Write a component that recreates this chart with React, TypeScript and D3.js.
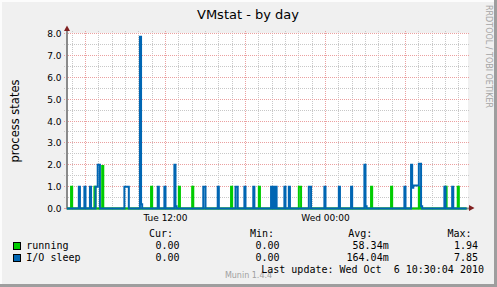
import React from "react";
import * as d3 from "d3";

const W = 497;
const H = 287;

const title = "VMstat - by day";
const yAxisLabel = "process states";
const watermark = "RRDTOOL / TOBI OETIKER";
const footer = "Munin 1.4.4";
const lastUpdate = "Last update: Wed Oct  6 10:30:04 2010";

const yMajorTicks = [0, 1, 2, 3, 4, 5, 6, 7, 8];
const yMinorTicks = [0.5, 1.5, 2.5, 3.5, 4.5, 5.5, 6.5, 7.5];
const xLabelTimes = ["2010-10-05 12:00", "2010-10-06 00:00"];

const rangeStart = "2010-10-05 04:36:45";
const rangeEnd = "2010-10-06 10:36:45";
const sampleStart = "2010-10-05 04:35";
const sampleEnd = "2010-10-06 10:40";

const seriesNames = ["running", "I/O sleep"];
const seriesColors = ["#00CC00", "#0066B3"];
const curValues = ["0.00", "0.00"];
const minValues = ["0.00", "0.00"];
const avgValues = ["58.34m", "164.04m"];
const maxValues = ["1.94", "7.85"];
const legendHeaders = ["Cur:", "Min:", "Avg:", "Max:"];

// non-zero 5-minute samples (all other samples are 0)
const runningSamples: [string, number][] = [
  ["2010-10-05 04:55", 1],
  ["2010-10-05 06:40", 1],
  ["2010-10-05 07:15", 1.94],
  ["2010-10-05 10:55", 1],
  ["2010-10-05 13:00", 1],
  ["2010-10-05 14:00", 1],
  ["2010-10-05 16:55", 1],
  ["2010-10-05 19:00", 1],
  ["2010-10-05 22:00", 1],
  ["2010-10-05 22:05", 1],
  ["2010-10-06 03:25", 1],
  ["2010-10-06 04:55", 1],
  ["2010-10-06 07:00", 1],
  ["2010-10-06 09:00", 1],
  ["2010-10-06 09:55", 1],
];

const ioSleepSamples: [string, number][] = [
  ["2010-10-05 05:30", 1],
  ["2010-10-05 05:55", 1],
  ["2010-10-05 06:20", 1],
  ["2010-10-05 06:45", 1],
  ["2010-10-05 06:50", 1],
  ["2010-10-05 06:55", 2],
  ["2010-10-05 07:00", 2],
  ["2010-10-05 08:55", 1],
  ["2010-10-05 09:00", 1],
  ["2010-10-05 09:05", 1],
  ["2010-10-05 09:10", 1],
  ["2010-10-05 10:05", 7.85],
  ["2010-10-05 10:10", 0.2],
  ["2010-10-05 11:25", 1],
  ["2010-10-05 11:55", 1],
  ["2010-10-05 12:40", 2],
  ["2010-10-05 12:45", 0.1],
  ["2010-10-05 14:50", 1],
  ["2010-10-05 14:55", 1],
  ["2010-10-05 15:55", 1],
  ["2010-10-05 17:15", 1],
  ["2010-10-05 17:20", 1],
  ["2010-10-05 17:55", 1],
  ["2010-10-05 18:35", 1],
  ["2010-10-05 19:55", 1],
  ["2010-10-05 20:05", 1],
  ["2010-10-05 20:15", 1],
  ["2010-10-05 20:55", 1],
  ["2010-10-05 21:15", 1],
  ["2010-10-05 22:45", 1],
  ["2010-10-05 22:50", 1],
  ["2010-10-05 23:55", 1],
  ["2010-10-06 01:00", 1],
  ["2010-10-06 01:55", 1],
  ["2010-10-06 02:55", 2],
  ["2010-10-06 03:00", 0.1],
  ["2010-10-06 05:55", 1],
  ["2010-10-06 06:25", 2],
  ["2010-10-06 06:30", 0.95],
  ["2010-10-06 06:35", 1.05],
  ["2010-10-06 06:40", 1.05],
  ["2010-10-06 06:45", 1.05],
  ["2010-10-06 06:50", 1.05],
  ["2010-10-06 06:55", 1.05],
  ["2010-10-06 07:00", 2.05],
  ["2010-10-06 07:05", 2.05],
  ["2010-10-06 07:10", 0.1],
  ["2010-10-06 08:55", 1],
  ["2010-10-06 09:30", 1],
];

const parseM = d3.utcParse("%Y-%m-%d %H:%M");
const parseS = d3.utcParse("%Y-%m-%d %H:%M:%S");

type Pt = { t: Date; v: number };

function buildSeries(samples: [string, number][]): Pt[] {
  const m = new Map<number, number>();
  samples.forEach(([t, v]) => m.set((parseM(t) as Date).getTime(), v));
  const times = d3.utcMinute.every(5)!.range(parseM(sampleStart) as Date, parseM(sampleEnd) as Date);
  return times.map((t) => ({ t, v: m.get(t.getTime()) ?? 0 }));
}

const SANS = "'DejaVu Sans', Verdana, sans-serif";
const MONO = "'DejaVu Sans Mono', monospace";

export default function App() {
  const t0 = parseS(rangeStart) as Date;
  const t1 = parseS(rangeEnd) as Date;
  const x = d3.scaleUtc().domain([t0, t1]).range([67, 467]);
  const y = d3.scaleLinear().domain([0, 8]).range([208.5, 33.5]);
  const px = (v: number) => Math.floor(v) + 0.5;

  const majorX = d3.utcHour.every(6)!.range(t0, t1);
  const majorSet = new Set(majorX.map((d) => d.getTime()));
  const minorX = d3.utcHour.range(t0, t1).filter((d) => !majorSet.has(d.getTime()));
  const fmt = d3.utcFormat("%a %H:%M");

  const series = [buildSeries(runningSamples), buildSeries(ioSleepSamples)];
  const line = d3
    .line<Pt>()
    .x((d) => x(d.t))
    .y((d) => y(d.v))
    .curve(d3.curveStepAfter);

  const gridGray = "#C8C8C8";
  const gridRed = "#EBA0A0";
  const arrowColor = "#802020";

  const legendRows = [249, 261];
  const colEnds = { cur: 179.5, min: 279.5, avg: 388.7, max: 478 };
  const headerEnds = [173, 274, 372.3, 471.6];

  return (
    <svg
      width={W}
      height={H}
      viewBox={`0 0 ${W} ${H}`}
      style={{ position: "absolute", left: 0, top: 0, display: "block" }}
    >
      <defs>
        <clipPath id="plotclip">
          <rect x={67} y={20} width={401} height={195} />
        </clipPath>
      </defs>
      {/* background and frame */}
      <rect x={0} y={0} width={W} height={H} fill="#F0F0F0" />
      <rect x={0} y={0} width={W} height={2} fill="#FCFCFC" />
      <rect x={0} y={0} width={2} height={H} fill="#FCFCFC" />
      <rect x={0} y={H - 3} width={W} height={3} fill="#9E9E9E" />
      <rect x={W - 3} y={0} width={3} height={H} fill="#9E9E9E" />

      {/* canvas */}
      <rect x={67} y={33} width={401} height={176} fill="#FFFFFF" />

      {/* minor grid */}
      <g stroke={gridGray} strokeWidth={1} strokeDasharray="1,1">
        {yMinorTicks.map((v) => (
          <line key={"hy" + v} x1={64} x2={470} y1={px(y(v))} y2={px(y(v))} />
        ))}
        {minorX.map((d) => (
          <line key={"vx" + d.getTime()} x1={px(x(d))} x2={px(x(d))} y1={31} y2={211} />
        ))}
      </g>
      {/* major grid */}
      <g stroke={gridRed} strokeWidth={1} strokeDasharray="1,1">
        {yMajorTicks
          .filter((v) => v > 0)
          .map((v) => (
            <line key={"My" + v} x1={64} x2={470} y1={px(y(v))} y2={px(y(v))} />
          ))}
        {majorX.map((d) => (
          <line key={"Mx" + d.getTime()} x1={px(x(d))} x2={px(x(d))} y1={31} y2={211} />
        ))}
      </g>
      {/* minor/major ticks left of axis at 0 */}
      <line x1={64} x2={66} y1={px(y(0))} y2={px(y(0))} stroke={gridRed} />

      {/* axes */}
      <line x1={67} x2={67} y1={209} y2={29} stroke="#8A8A8A" strokeWidth={2} />
      <line x1={66} x2={470} y1={208.5} y2={208.5} stroke="#8A8A8A" strokeWidth={2} />

      {/* data lines */}
      <g clipPath="url(#plotclip)" fill="none" strokeWidth={2} strokeLinejoin="miter" strokeLinecap="butt">
        {series.map((s, i) => (
          <path key={i} d={line(s) || ""} stroke={seriesColors[i]} />
        ))}
      </g>

      {/* arrows */}
      <path d="M64,31 L70,31 L67,25.5 Z" fill={arrowColor} />
      <path d="M469,205 L469,211 L474.5,208 Z" fill={arrowColor} />

      {/* y tick labels */}
      <g fontFamily={SANS} fontSize={9} fill="#000" textAnchor="end">
        {yMajorTicks.map((v) => (
          <text key={"yl" + v} x={61.6} y={px(y(v)) + 3.3}>
            {v.toFixed(1)}
          </text>
        ))}
      </g>
      {/* x tick labels */}
      <g fontFamily={SANS} fontSize={9} fill="#000" textAnchor="middle">
        {xLabelTimes.map((s) => {
          const d = parseM(s) as Date;
          return (
            <text key={s} x={px(x(d))} y={221}>
              {fmt(d)}
            </text>
          );
        })}
      </g>

      {/* title */}
      <text x={248} y={19} fontFamily={SANS} fontSize={13} textAnchor="middle" fill="#000">
        {title}
      </text>

      {/* vertical axis label */}
      <text
        transform="translate(19,121) rotate(-90)"
        fontFamily={SANS}
        fontSize={11.5}
        textAnchor="middle"
        fill="#000"
      >
        {yAxisLabel}
      </text>

      {/* watermark */}
      <text
        transform="translate(485.6,5) rotate(90)"
        fontFamily={SANS}
        fontSize={8}
        fill="#A5A5A5"
      >
        {watermark}
      </text>

      {/* legend */}
      <g fontFamily={MONO} fontSize={10} fill="#000" style={{ whiteSpace: "pre" }}>
        {legendHeaders.map((h, i) => (
          <text key={h} x={headerEnds[i]} y={237} textAnchor="end">
            {h}
          </text>
        ))}
        {seriesNames.map((n, i) => (
          <g key={n}>
            <rect
              x={13.5}
              y={legendRows[i] - 6.5}
              width={7}
              height={7}
              fill={seriesColors[i]}
              stroke="#000"
              strokeWidth={1}
            />
            <text x={26.3} y={legendRows[i]}>
              {n}
            </text>
            <text x={colEnds.cur} y={legendRows[i]} textAnchor="end">
              {curValues[i]}
            </text>
            <text x={colEnds.min} y={legendRows[i]} textAnchor="end">
              {minValues[i]}
            </text>
            <text x={colEnds.avg} y={legendRows[i]} textAnchor="end">
              {avgValues[i]}
            </text>
            <text x={colEnds.max} y={legendRows[i]} textAnchor="end">
              {maxValues[i]}
            </text>
          </g>
        ))}
      </g>
      <text x={248.5} y={278} fontFamily={SANS} fontSize={8} fill="#A0A0A0" textAnchor="middle">
        {footer}
      </text>
      <text
        x={484}
        y={273}
        fontFamily={MONO}
        fontSize={10}
        fill="#000"
        textAnchor="end"
        style={{ whiteSpace: "pre" }}
      >
        {lastUpdate}
      </text>
    </svg>
  );
}
